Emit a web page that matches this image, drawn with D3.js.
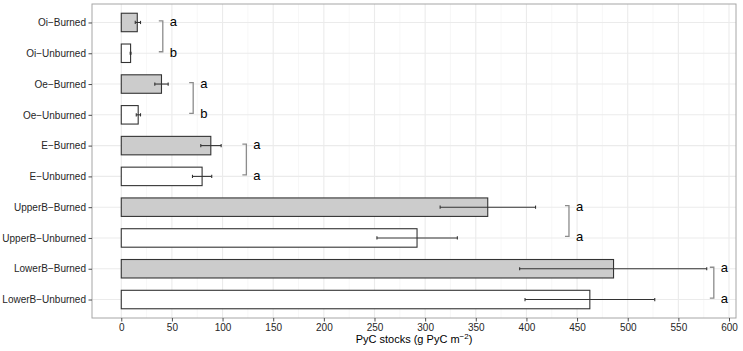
<!DOCTYPE html>
<html>
<head>
<meta charset="utf-8">
<script src="https://cdn.jsdelivr.net/npm/d3@7"></script>
<style>
  body { margin: 0; background: #fff; }
  svg text { font-family: "Liberation Sans", Arial, sans-serif; }
</style>
</head>
<body>
<div id="chart"></div>
<script>
// categories top to bottom
const categories = ["Oi−Burned", "Oi−Unburned", "Oe−Burned", "Oe−Unburned", "E−Burned", "E−Unburned",
  "UpperB−Burned", "UpperB−Unburned", "LowerB−Burned", "LowerB−Unburned"];
const burned = [true, false, true, false, true, false, true, false, true, false];
const stocks = [15.8, 9.2, 39.7, 16.7, 88.4, 79.8, 361.8, 292, 486, 462.6];
const errLow = [13.8, 8.8, 33.1, 14.8, 78.5, 70.3, 314.8, 252.4, 393.3, 398.6];
const errHigh = [19, 9.6, 46.3, 19, 98.6, 89.3, 409, 331.8, 578, 526.7];
const xTicks = [0, 50, 100, 150, 200, 250, 300, 350, 400, 450, 500, 550, 600];

// significance brackets: pair of categories, x of bracket (data units), letters
const bracketPairs = [[0, 1], [2, 3], [4, 5], [6, 7], [8, 9]];
const bracketX = [41, 71, 123.5, 442, 585];
const bracketLetters = [["a", "b"], ["a", "b"], ["a", "a"], ["a", "a"], ["a", "a"]];

const W = 743, H = 351;
const panel = { left: 92, right: 736, top: 4, bottom: 318 };

const svg = d3.select("#chart").append("svg")
  .attr("width", W).attr("height", H);

const maxX = d3.max(errHigh);
const x = d3.scaleLinear()
  .domain([-0.05 * maxX, maxX * 1.05])
  .range([panel.left, panel.right]);

const y = d3.scalePoint()
  .domain(categories)
  .range([panel.top, panel.bottom])
  .padding(0.6);
const barH = y.step() * 0.6;

// grid
const minor = d3.range(25, 600, 50);
svg.append("g").selectAll("line").data(minor).join("line")
  .attr("x1", d => x(d)).attr("x2", d => x(d))
  .attr("y1", panel.top).attr("y2", panel.bottom)
  .attr("stroke", "#f2f2f2").attr("stroke-width", 0.6);
svg.append("g").selectAll("line").data(xTicks).join("line")
  .attr("x1", d => x(d)).attr("x2", d => x(d))
  .attr("y1", panel.top).attr("y2", panel.bottom)
  .attr("stroke", "#ebebeb").attr("stroke-width", 1.1);
svg.append("g").selectAll("line").data(categories).join("line")
  .attr("x1", panel.left).attr("x2", panel.right)
  .attr("y1", d => y(d)).attr("y2", d => y(d))
  .attr("stroke", "#ebebeb").attr("stroke-width", 1.1);

// bars
svg.append("g").selectAll("rect").data(categories).join("rect")
  .attr("x", x(0))
  .attr("y", d => y(d) - barH / 2)
  .attr("width", (d, i) => x(stocks[i]) - x(0))
  .attr("height", barH)
  .attr("fill", (d, i) => burned[i] ? "#cccccc" : "#ffffff")
  .attr("stroke", "#333")
  .attr("stroke-width", 1.1);

// error bars
const eb = svg.append("g").attr("stroke", "#333").attr("stroke-width", 1.1);
categories.forEach((c, i) => {
  eb.append("line")
    .attr("x1", x(errLow[i])).attr("x2", x(errHigh[i]))
    .attr("y1", y(c)).attr("y2", y(c));
  [errLow[i], errHigh[i]].forEach(v => {
    eb.append("line")
      .attr("x1", x(v)).attr("x2", x(v))
      .attr("y1", y(c) - 1.6).attr("y2", y(c) + 1.6);
  });
});

// panel border
svg.append("rect")
  .attr("x", panel.left).attr("y", panel.top)
  .attr("width", panel.right - panel.left).attr("height", panel.bottom - panel.top)
  .attr("fill", "none").attr("stroke", "#a6a6a6").attr("stroke-width", 1);

// brackets + letters
bracketPairs.forEach((p, k) => {
  const bx = x(bracketX[k]);
  const y1 = y(categories[p[0]]) - 1.5, y2 = y(categories[p[1]]) - 1.5;
  svg.append("path")
    .attr("d", `M${bx - 4},${y1}H${bx}V${y2}H${bx - 4}`)
    .attr("fill", "none").attr("stroke", "#8c8c8c").attr("stroke-width", 1.3);
  p.forEach((ci, j) => {
    svg.append("text")
      .attr("x", bx + 7)
      .attr("y", y(categories[ci]) + 3.5)
      .attr("font-size", 13)
      .attr("fill", "#000")
      .text(bracketLetters[k][j]);
  });
});

// y axis
const yAxis = svg.append("g")
  .attr("transform", `translate(${panel.left},0)`)
  .call(d3.axisLeft(y).tickSize(3.5).tickPadding(2.5));
yAxis.select(".domain").remove();
yAxis.selectAll("line").attr("stroke", "#4d4d4d");
yAxis.selectAll("text").attr("font-size", 10).attr("fill", "#262626")
  .style("font-family", "'Liberation Sans', Arial, sans-serif");

// x axis
const xAxis = svg.append("g")
  .attr("transform", `translate(0,${panel.bottom})`)
  .call(d3.axisBottom(x).tickValues(xTicks).tickSize(3.5).tickPadding(2));
xAxis.select(".domain").remove();
xAxis.selectAll("line").attr("stroke", "#4d4d4d");
xAxis.selectAll("text").attr("font-size", 10).attr("fill", "#262626")
  .style("font-family", "'Liberation Sans', Arial, sans-serif");

// axis title
const title = svg.append("text")
  .attr("x", (panel.left + panel.right) / 2)
  .attr("y", 343)
  .attr("text-anchor", "middle")
  .attr("font-size", 11)
  .attr("fill", "#000");
title.append("tspan").text("PyC stocks (g PyC m");
title.append("tspan").attr("dy", -4).attr("font-size", 8).text("−2");
title.append("tspan").attr("dy", 4).text(")");
</script>
</body>
</html>
